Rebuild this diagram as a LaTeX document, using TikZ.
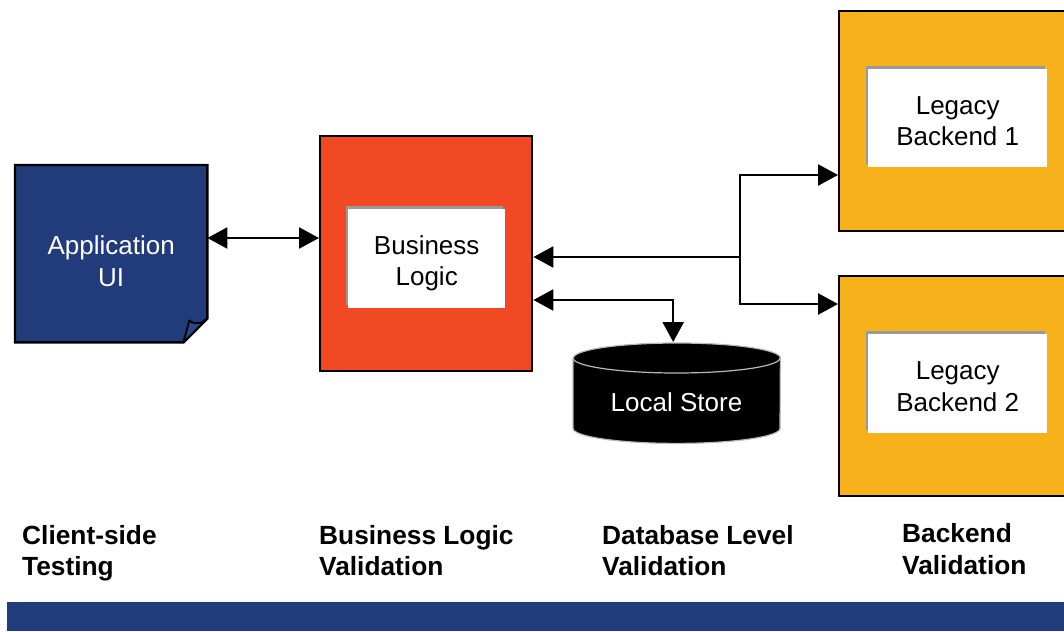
\documentclass[tikz,border=0pt]{standalone}
\usepackage{fontspec}
\setmainfont{Liberation Sans}
\usetikzlibrary{arrows.meta,calc,shadows}
\definecolor{navy}{HTML}{223C7B}
\definecolor{flapblue}{HTML}{2C4688}
\definecolor{logicred}{HTML}{F04923}
\definecolor{backgold}{HTML}{F6B11B}
\definecolor{shade}{HTML}{9A9A9A}
\definecolor{rim}{HTML}{B8B8B8}
\tikzset{
  panel/.style={draw=black, line width=2.4pt, inner sep=0pt, anchor=north west},
  card/.style={fill=white, inner sep=0pt, anchor=north west,
    general shadow={fill=shade, shadow xshift=-2.5pt, shadow yshift=3pt}},
  bodytext/.style={align=center, inner sep=0pt, font=\fontsize{26}{31.5}\selectfont},
  tier/.style={anchor=north west, inner sep=0pt, align=left,
    font=\bfseries\fontsize{26.3}{31.5}\selectfont},
  tip/.tip={Triangle[length=20pt, width=21pt]},
  link/.style={line width=2.5pt, -tip},
  twoway/.style={line width=2.5pt, tip-tip},
}
\begin{document}
\begin{tikzpicture}[x=1pt, y=-1pt]
\useasboundingbox (0,0) rectangle (1064,631);

% client application (sheet with a curled corner)
\node[inner sep=0pt, minimum width=192pt, minimum height=177pt, anchor=north west] (appui) at (15,165) {};
\coordinate (fold) at (appui.south east);
\draw[line width=2.4pt, fill=navy, line join=miter]
  (appui.north west) -- (appui.north east) -- ($(fold)+(0,-24)$)
  -- ($(fold)+(-24,0)$) -- (appui.south west) -- cycle;
\draw[line width=1.8pt, fill=flapblue, line join=round]
  ($(fold)+(-24,0)$) -- ($(fold)+(-18,-22)$)
  .. controls ($(fold)+(-15,-18)$) and ($(fold)+(-6,-18)$) .. ($(fold)+(0,-24)$) -- cycle;
\node[bodytext, text=white] (apptext) at ($(appui.center)+(0,7.5)$) {Application\\UI};

% business logic tier
\node[panel, fill=logicred, minimum width=212pt, minimum height=235pt] (bl) at (319,135) {};
\node[card, minimum width=157pt, minimum height=99pt] (blcard) at (348,209) {};
\node[bodytext] (bltext) at ($(blcard.center)+(0,4.5)$) {Business\\Logic};

% legacy backends
\node[panel, fill=backgold, minimum width=240pt, minimum height=220pt] (lb1) at (838,10) {};
\node[card, minimum width=179pt, minimum height=98pt] (lb1card) at (868,69) {};
\node[bodytext] (lb1text) at ($(lb1card.center)+(0,3)$) {Legacy\\Backend 1};
\node[panel, fill=backgold, minimum width=240pt, minimum height=220pt] (lb2) at (838,275) {};
\node[card, minimum width=179pt, minimum height=99pt] (lb2card) at (868,334) {};
\node[bodytext] (lb2text) at ($(lb2card.center)+(0,3)$) {Legacy\\Backend 2};

% local store (cylinder)
\node[inner sep=0pt, minimum width=207pt, minimum height=100pt, anchor=north west] (store) at (573,343) {};
\coordinate (topc) at ($(store.north)+(0,15)$);
\coordinate (botc) at ($(store.south)+(0,-15)$);
\draw[draw=rim, fill=black, line width=1.2pt]
  (store.west |- topc) -- (store.west |- botc)
  arc[start angle=180, end angle=360, x radius=103.5pt, y radius=15pt]
  -- (store.east |- topc)
  arc[start angle=0, end angle=180, x radius=103.5pt, y radius=15pt] -- cycle;
\draw[draw=rim, line width=1.2pt] (store.west |- topc)
  arc[start angle=180, end angle=360, x radius=103.5pt, y radius=15pt];
\node[bodytext, text=white] (storetext) at (676.5,402) {Local Store};

% connectors
\coordinate (lvA) at (0,238);
\coordinate (hub) at (740,257);
\coordinate (lvB) at (0,175);
\coordinate (lvD) at (0,304);
\coordinate (lvC) at (0,300);
\draw[twoway] (appui.east |- lvA) -- (bl.west |- lvA);
\draw[link] (hub) -- (bl.east |- hub);
\draw[twoway, line join=miter] (lb1.west |- lvB) -- (hub |- lvB) -- (hub |- lvD) -- (lb2.west |- lvD);
\draw[twoway, line join=miter] (bl.east |- lvC) -| ($(store.north)+(-3.5,-1)$);

% tier captions
\node[tier] (t1) at (22,525) {Client-side\\Testing};
\node[tier] (t2) at (319,525) {Business Logic\\Validation};
\node[tier] (t3) at (602,525) {Database Level\\Validation};
\node[tier] (t4) at (902,523.5) {Backend\\Validation};

% footer band
\node[fill=navy, inner sep=0pt, anchor=north west, minimum width=1057pt, minimum height=29pt] (band) at (7,602) {};
\end{tikzpicture}
\end{document}
